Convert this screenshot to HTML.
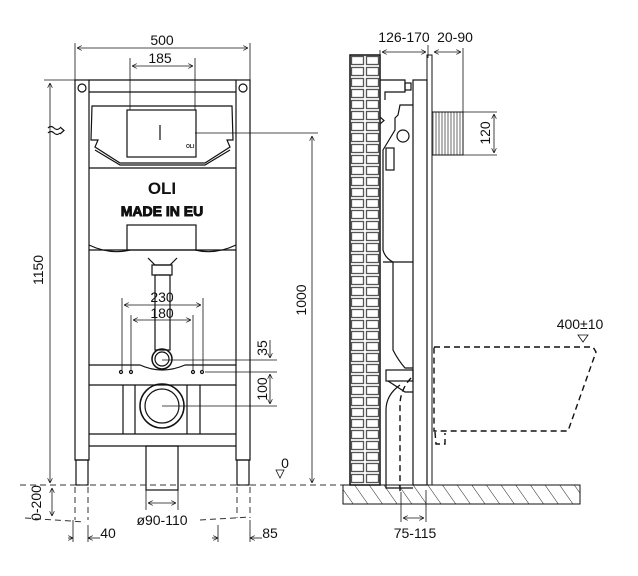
<!DOCTYPE html>
<html><head><meta charset="utf-8"><style>
html,body{margin:0;padding:0;background:#fff}
svg{display:block}
text{font-family:"Liberation Sans",sans-serif;fill:#111}
</style></head><body>
<svg width="638" height="576" viewBox="0 0 638 576" xmlns="http://www.w3.org/2000/svg">
<defs>
<pattern id="brick" x="350" y="55" width="15" height="11" patternUnits="userSpaceOnUse">
<rect x="0" y="0" width="15" height="11" fill="#fff"/>
<rect x="1.5" y="1.5" width="12" height="8" fill="none" stroke="#555" stroke-width="1.3"/>
</pattern>
<pattern id="hatch" width="12" height="12" patternUnits="userSpaceOnUse" patternTransform="rotate(-35)">
<line x1="0" y1="0" x2="0" y2="12" stroke="#222" stroke-width="1"/>
</pattern>
<pattern id="fine" width="3" height="4" patternUnits="userSpaceOnUse">
<line x1="1" y1="0" x2="1" y2="4" stroke="#444" stroke-width="0.8"/>
</pattern>
<marker id="a" viewBox="0 0 10 10" refX="10" refY="5" markerWidth="6" markerHeight="6" orient="auto-start-reverse"><path d="M0,0 L10,5 L0,10" fill="none" stroke="#111" stroke-width="1.5"/></marker>
</defs>
<g fill="none" stroke="#111" stroke-width="1.2">
<rect x="75" y="80" width="14" height="380"/>
<rect x="236" y="80" width="14" height="380"/>
<rect x="76" y="460" width="12" height="25"/>
<rect x="237" y="460" width="12" height="25"/>
<line x1="89" y1="80" x2="236" y2="80"/>
<line x1="89" y1="92" x2="236" y2="92"/>
<circle cx="82" cy="88" r="4"/><circle cx="243" cy="88" r="4"/>
<path d="M91,140 L92,106 L232,106 L233,140 L227,140 L230,147 L205,163 L120,163 L95,147 L98,140 Z"/>
<path d="M95,150 L120,165 L205,165 L230,150"/>
<rect x="127" y="110" width="69" height="47"/>
<line x1="160" y1="125" x2="160" y2="140"/>
<text x="186" y="148" font-size="5" font-weight="bold" stroke="none">OLI</text>
<path d="M89,168 L236,168 M89,250 L236,250"/>
<path d="M89,245 Q110,255 130,250 M236,245 Q215,255 195,250"/>
<rect x="127" y="225" width="69" height="25"/>
<path d="M148,258 L155,265 L170,265 L177,258"/>
<rect x="152" y="265" width="20" height="10"/>
<rect x="155" y="275" width="15" height="75"/>
<path d="M89,365 L140,365 Q162,375 185,365 L236,365"/>
<line x1="89" y1="385" x2="236" y2="385"/>
<line x1="89" y1="434" x2="236" y2="434"/>
<line x1="89" y1="446" x2="236" y2="446"/>
<line x1="123" y1="385" x2="123" y2="434"/><line x1="135" y1="385" x2="135" y2="434"/>
<line x1="187" y1="385" x2="187" y2="434"/><line x1="200" y1="385" x2="200" y2="434"/>
<circle cx="162" cy="359" r="10" stroke-width="1.5"/><circle cx="162" cy="359" r="7"/>
<circle cx="162" cy="406" r="22" stroke-width="1.5"/><circle cx="162" cy="406" r="17"/>
<rect x="146" y="446" width="32" height="44"/>
<circle cx="121" cy="372" r="1.5"/><circle cx="131" cy="372" r="1.5"/><circle cx="193" cy="372" r="1.5"/><circle cx="202" cy="372" r="1.5"/>
</g>
<text x="162" y="194" font-size="17" font-weight="bold" text-anchor="middle">OLI</text>
<text x="162" y="216" font-size="14" font-weight="bold" text-anchor="middle" fill="#fff" stroke="#111" stroke-width="0.9">MADE IN EU</text>

<g fill="none" stroke="#111" stroke-width="0.8">
<line x1="75" y1="80" x2="75" y2="43"/><line x1="250" y1="80" x2="250" y2="43"/>
<line x1="77" y1="48" x2="248" y2="48" marker-start="url(#a)" marker-end="url(#a)"/>
<line x1="130" y1="110" x2="130" y2="58"/><line x1="195" y1="110" x2="195" y2="58"/>
<line x1="132" y1="66" x2="193" y2="66" marker-start="url(#a)" marker-end="url(#a)"/>
<line x1="44" y1="80" x2="90" y2="80"/>
<line x1="50" y1="83" x2="50" y2="483" marker-start="url(#a)" marker-end="url(#a)"/>
<line x1="195" y1="133" x2="318" y2="133"/>
<line x1="312" y1="136" x2="312" y2="483" marker-start="url(#a)" marker-end="url(#a)"/>
<line x1="122" y1="298" x2="122" y2="370"/><line x1="203" y1="298" x2="203" y2="370"/>
<line x1="124" y1="305" x2="201" y2="305" marker-start="url(#a)" marker-end="url(#a)"/>
<line x1="131" y1="315" x2="131" y2="370"/><line x1="193" y1="315" x2="193" y2="370"/>
<line x1="133" y1="320" x2="191" y2="320" marker-start="url(#a)" marker-end="url(#a)"/>
<line x1="162" y1="360" x2="277" y2="360"/><line x1="205" y1="372" x2="277" y2="372"/><line x1="162" y1="406" x2="277" y2="406"/>
<line x1="270" y1="340" x2="270" y2="358" marker-end="url(#a)"/>
<line x1="270" y1="374" x2="270" y2="404" marker-start="url(#a)" marker-end="url(#a)"/>
<line x1="52" y1="488" x2="52" y2="516" marker-start="url(#a)" marker-end="url(#a)"/>
<line x1="146" y1="490" x2="146" y2="510"/><line x1="178" y1="490" x2="178" y2="510"/>
<line x1="148" y1="503" x2="176" y2="503" marker-start="url(#a)" marker-end="url(#a)"/>
<line x1="73" y1="520" x2="73" y2="542"/><line x1="88" y1="525" x2="88" y2="542"/>
<line x1="68" y1="538" x2="73" y2="538" marker-end="url(#a)"/><line x1="100" y1="538" x2="88" y2="538" marker-end="url(#a)"/>
<line x1="218" y1="525" x2="218" y2="542"/><line x1="250" y1="520" x2="250" y2="542"/>
<line x1="212" y1="538" x2="218" y2="538" marker-end="url(#a)"/><line x1="262" y1="538" x2="250" y2="538" marker-end="url(#a)"/>
<path d="M276,470 L284,470 L280,478 Z"/>
</g>
<g fill="none" stroke="#333" stroke-width="1" stroke-dasharray="6,4">
<line x1="20" y1="485" x2="345" y2="485"/>
<line x1="25" y1="518" x2="85" y2="522"/>
<line x1="200" y1="520" x2="250" y2="517"/>
<line x1="75" y1="487" x2="75" y2="520"/><line x1="88" y1="487" x2="88" y2="520"/>
<line x1="237" y1="487" x2="237" y2="518"/><line x1="250" y1="487" x2="250" y2="518"/>
</g>
<!-- wave inlet symbols -->
<g fill="none" stroke="#111" stroke-width="1.2">
<path d="M48,128 q3,-3 6,0 t6,0 M48,133 q3,-3 6,0 t6,0"/>
<path d="M60,127 L64,130.5 L60,134"/>
<path d="M368,118 q3,-3 6,0 t6,0 M368,123 q3,-3 6,0 t6,0"/>
<path d="M380,117 L384,120.5 L380,124"/>
</g>
<text x="162" y="45" font-size="14" text-anchor="middle">500</text>
<text x="160" y="63" font-size="14" text-anchor="middle">185</text>
<text x="162" y="302" font-size="14" text-anchor="middle">230</text>
<text x="162" y="318" font-size="14" text-anchor="middle">180</text>
<text x="162" y="525" font-size="14" text-anchor="middle">ø90-110</text>
<text x="108" y="538" font-size="14" text-anchor="middle">40</text>
<text x="270" y="538" font-size="14" text-anchor="middle">85</text>
<text x="285" y="468" font-size="14" text-anchor="middle">0</text>
<text transform="translate(43,270) rotate(-90)" font-size="14" text-anchor="middle">1150</text>
<text transform="translate(306,300) rotate(-90)" font-size="14" text-anchor="middle">1000</text>
<text transform="translate(267,348) rotate(-90)" font-size="14" text-anchor="middle">35</text>
<text transform="translate(267,389) rotate(-90)" font-size="14" text-anchor="middle">100</text>
<text transform="translate(41,503) rotate(-90)" font-size="14" text-anchor="middle">0-200</text>

<rect x="343" y="485" width="237" height="19" fill="url(#hatch)" stroke="#111" stroke-width="1"/>
<rect x="350" y="55" width="30" height="430" fill="url(#brick)" stroke="#111" stroke-width="1.5"/>
<rect x="432" y="112" width="31" height="43" fill="url(#fine)" stroke="#111" stroke-width="1"/>
<g fill="none" stroke="#111" stroke-width="1.2">
<rect x="413" y="80" width="14" height="405"/>
<rect x="427" y="55" width="5" height="430" stroke-width="1"/>
<path d="M380,80 L405,80 L405,92 L385,92 L385,100"/>
<rect x="405" y="83" width="6" height="7"/>
<path d="M413,105 L400,105 L398,115 L395,118 L395,130 L383,150 L383,250 Q385,258 393,262 L393,350 Q398,360 405,368 L413,368"/>
<circle cx="403" cy="136" r="6"/>
<rect x="386" y="148" width="8" height="22"/>
<path d="M383,262 L413,262"/>
<rect x="386" y="370" width="27" height="11"/>
<path d="M388,381 L405,392 L413,392 M400,385 Q386,395 386,410 L386,488 L413,488"/>
</g>
<g fill="none" stroke="#111" stroke-width="1.4" stroke-dasharray="6,4">
<path d="M434,347 L593,347 L596,352 L568,431 L434,431 Z"/>
<path d="M435,432 L436,444 L445,444 L445,433"/>
<path d="M411,378 Q400,390 400,405 L400,492"/>
</g>
<g fill="none" stroke="#111" stroke-width="0.8">
<line x1="380" y1="50" x2="380" y2="58"/><line x1="428" y1="45" x2="428" y2="58"/>
<line x1="382" y1="52" x2="426" y2="52" marker-start="url(#a)" marker-end="url(#a)"/>
<line x1="463" y1="48" x2="463" y2="112"/>
<line x1="434" y1="52" x2="461" y2="52" marker-start="url(#a)" marker-end="url(#a)"/>
<line x1="463" y1="112" x2="497" y2="112"/><line x1="463" y1="155" x2="497" y2="155"/>
<line x1="494" y1="114" x2="494" y2="153" marker-start="url(#a)" marker-end="url(#a)"/>
<line x1="401" y1="492" x2="401" y2="522"/><line x1="426" y1="490" x2="426" y2="522"/>
<line x1="403" y1="518" x2="424" y2="518" marker-start="url(#a)" marker-end="url(#a)"/>
<path d="M578,335 L588,335 L583,342 Z"/>
</g>
<text x="404" y="42" font-size="14" text-anchor="middle">126-170</text>
<text x="455" y="42" font-size="14" text-anchor="middle">20-90</text>
<text transform="translate(490,133) rotate(-90)" font-size="14" text-anchor="middle">120</text>
<text x="580" y="329" font-size="14" text-anchor="middle">400±10</text>
<text x="415" y="538" font-size="14" text-anchor="middle">75-115</text>
</svg>
</body></html>
